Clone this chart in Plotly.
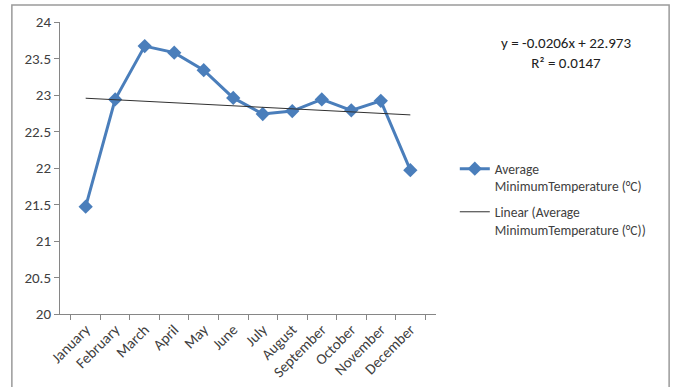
import numpy as np
import plotly.graph_objects as go

months = ["January", "February", "March", "April", "May", "June", "July",
          "August", "September", "October", "November", "December"]
min_temp = [21.47, 22.94, 23.67, 23.58, 23.34, 22.96, 22.74, 22.78, 22.94, 22.79, 22.92, 21.97]
y_ticks = [20, 20.5, 21, 21.5, 22, 22.5, 23, 23.5, 24]
y_tick_text = ["20", "20.5", "21", "21.5", "22", "22.5", "23", "23.5", "24"]
equation_text = "y = -0.0206x + 22.973<br>R² = 0.0147"

xs = np.arange(1, len(min_temp) + 1)
slope, intercept = np.polyfit(xs, min_temp, 1)
trend = list(slope * xs + intercept)

FONT = "Carlito, Lato, 'Open Sans', sans-serif"
TXT = "#404040"

fig = go.Figure()
fig.add_trace(go.Scatter(
    x=months, y=min_temp, mode="lines+markers",
    name="Average<br>MinimumTemperature (°C)", legendgroup="a",
    line=dict(color="#4A7EBB", width=3),
    marker=dict(symbol="diamond", size=11, color="#4A7EBB"),
))
fig.add_trace(go.Scatter(
    x=months, y=trend, mode="lines",
    name="Linear (Average<br>MinimumTemperature (°C))", legendgroup="b",
    line=dict(color="#303030", width=1),
))

fig.update_layout(
    width=676, height=387,
    margin=dict(l=60, r=240, t=22, b=73),
    paper_bgcolor="white", plot_bgcolor="white",
    font=dict(family=FONT, size=13, color=TXT),
    showlegend=True,
    legend=dict(x=1.05, y=0.55, xanchor="left", yanchor="top", valign="top",
                font=dict(family=FONT, size=13.5, color=TXT),
                tracegroupgap=5, itemwidth=30, bgcolor="rgba(0,0,0,0)"),
    xaxis=dict(type="category", showgrid=False, showline=True, linecolor="#868686",
               linewidth=1, ticks="outside", tickson="boundaries", ticklen=5,
               tickcolor="#868686", tickangle=-45, automargin=False,
               tickfont=dict(family=FONT, size=15, color=TXT)),
    yaxis=dict(range=[20, 24], tickvals=y_ticks, ticktext=y_tick_text,
               showgrid=False, showline=True, linecolor="#868686", linewidth=1,
               ticks="outside", ticklen=5, tickcolor="#868686", zeroline=False,
               automargin=False,
               tickfont=dict(family=FONT, size=15, color=TXT)),
    annotations=[dict(text=equation_text, xref="paper", yref="paper",
                      x=1.345, y=0.965, xanchor="center", yanchor="top",
                      showarrow=False, align="center",
                      font=dict(family=FONT, size=15, color="#202020"))],
    shapes=[dict(type="rect", xref="paper", yref="paper",
                 x0=-0.128, x1=1.62, y0=-0.28, y1=1.058,
                 line=dict(color="#9a9a9a", width=1.5), fillcolor="rgba(0,0,0,0)")],
)

fig.write_html("out.html")
